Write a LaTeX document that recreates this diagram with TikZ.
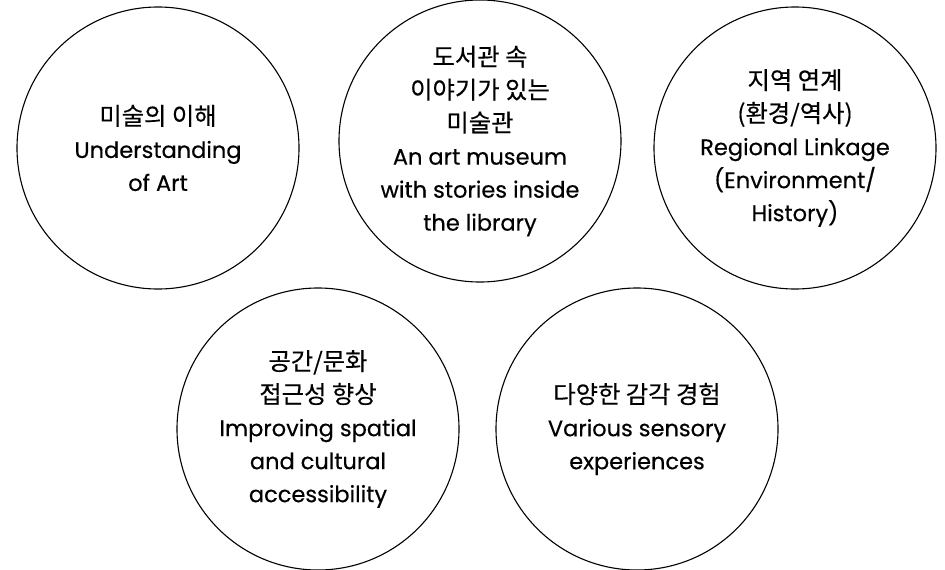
\documentclass[tikz,border=0pt]{standalone}
\usepackage{fontspec}
\setmainfont{Poppins}[FakeBold=0.4]
\newfontfamily\kofont{Noto Sans CJK KR}[Scale=1.08, FakeBold=0.4]

\begin{document}
\begin{tikzpicture}[x=1pt, y=-1pt,
    theme/.style={draw, circle, line width=1.1pt, minimum size=282pt, inner sep=0pt,
        align=center, font=\fontsize{22.5}{33}\selectfont}]
        \useasboundingbox (0,0) rectangle (945,570);
        % top row
        \node[theme] (art) at (158,148) {{\kofont 미술의 이해}\\Understanding\\of Art};
        \node[theme] (museum) at (480,141) {{\kofont 도서관 속}\\{\kofont 이야기가 있는}\\{\kofont 미술관}\\An art museum\\with stories inside\\the library};
        \node[theme] (region) at (795,148) {{\kofont 지역 연계}\\{\kofont (환경/역사)}\\Regional Linkage\\(Environment/\\History)};
        % bottom row
        \node[theme] (access) at (318,429) {{\kofont 공간/문화}\\{\kofont 접근성 향상}\\Improving spatial\\and cultural\\accessibility};
        \node[theme] (senses) at (637,429) {{\kofont 다양한 감각 경험}\\Various sensory\\experiences};
    \end{tikzpicture}
\end{document}
